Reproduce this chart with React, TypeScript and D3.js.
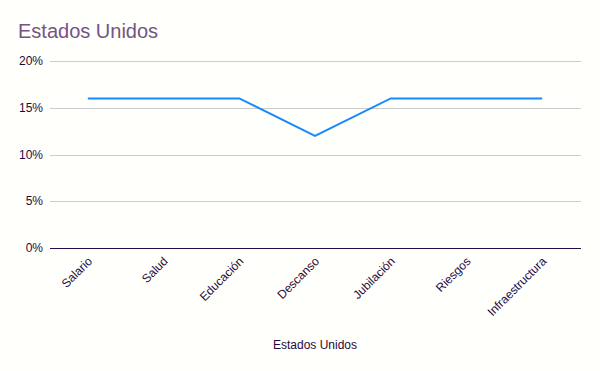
import * as d3 from "d3";
import React, { useEffect, useRef } from "react";

const categories = ["Salario", "Salud", "Educación", "Descanso", "Jubilación", "Riesgos", "Infraestructura"];
const values = [0.16, 0.16, 0.16, 0.12, 0.16, 0.16, 0.16];
const yTicks = [0, 0.05, 0.1, 0.15, 0.2];
const title = "Estados Unidos";
const xTitle = "Estados Unidos";

const App = () => {
  const ref = useRef<SVGSVGElement>(null);

  useEffect(() => {
    const width = 600;
    const height = 371;
    const svg = d3.select(ref.current);
    svg.selectAll("*").remove();

    svg.append("rect").attr("width", width).attr("height", height).attr("fill", "#fffffb");

    const x = d3.scaleBand().domain(categories).range([50, 580]);
    const y = d3.scaleLinear().domain([0, 0.2]).range([248, 61]);

    // title
    svg.append("text")
      .attr("x", 18)
      .attr("y", 38)
      .attr("font-family", "Liberation Sans, Arial, sans-serif")
      .attr("font-size", 20)
      .attr("fill", "#745484")
      .text(title);

    // gridlines + y labels
    const g = svg.append("g");
    g.selectAll("line.grid")
      .data(yTicks.filter((t) => t > 0))
      .enter()
      .append("line")
      .attr("x1", 50)
      .attr("x2", 581)
      .attr("y1", (d) => Math.round(y(d)) + 0.5)
      .attr("y2", (d) => Math.round(y(d)) + 0.5)
      .attr("stroke", "#cccccc")
      .attr("stroke-width", 1);

    g.selectAll("text.ylab")
      .data(yTicks)
      .enter()
      .append("text")
      .attr("x", 43)
      .attr("y", (d) => y(d) + 4)
      .attr("text-anchor", "end")
      .attr("font-family", "Liberation Sans, Arial, sans-serif")
      .attr("font-size", 12)
      .attr("fill", "#1f0a3a")
      .text((d) => d3.format(".0%")(d));

    // baseline
    svg.append("line")
      .attr("x1", 50)
      .attr("x2", 581)
      .attr("y1", Math.round(y(0)) + 0.5)
      .attr("y2", Math.round(y(0)) + 0.5)
      .attr("stroke", "#2a0a4a")
      .attr("stroke-width", 1);

    // x labels
    svg.selectAll("text.xlab")
      .data(categories)
      .enter()
      .append("text")
      .attr("transform", (d) => `translate(${(x(d) as number) + x.bandwidth() / 2 + 5},${262}) rotate(-45)`)
      .attr("text-anchor", "end")
      .attr("font-family", "Liberation Sans, Arial, sans-serif")
      .attr("font-size", 12)
      .attr("fill", "#1f0a3a")
      .text((d) => d);

    // x title
    svg.append("text")
      .attr("x", 315)
      .attr("y", 349)
      .attr("text-anchor", "middle")
      .attr("font-family", "Liberation Sans, Arial, sans-serif")
      .attr("font-size", 12)
      .attr("fill", "#1f0a3a")
      .text(xTitle);

    // line
    const line = d3.line<number>()
      .x((d, i) => (x(categories[i]) as number) + x.bandwidth() / 2)
      .y((d) => y(d));

    svg.append("path")
      .datum(values)
      .attr("d", line)
      .attr("fill", "none")
      .attr("stroke", "#1a88ff")
      .attr("stroke-width", 2);
  }, []);

  return (
    <svg
      ref={ref}
      width={600}
      height={371}
      style={{ position: "absolute", left: 0, top: 0 }}
    />
  );
};

export default App;
